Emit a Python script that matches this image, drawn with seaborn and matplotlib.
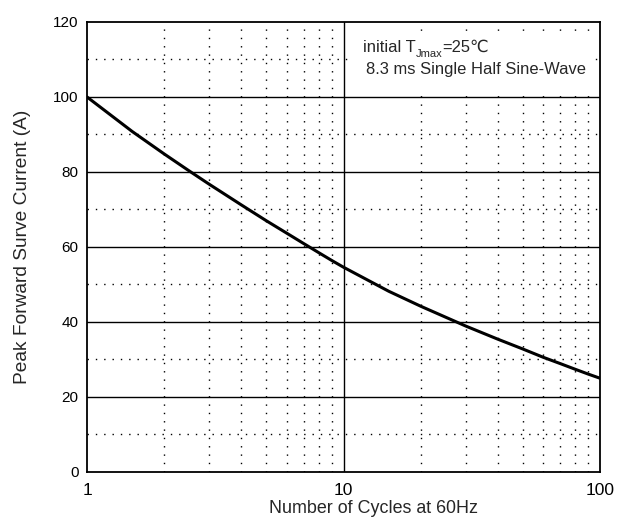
import numpy as np
import matplotlib
matplotlib.use('Agg')
import matplotlib.pyplot as plt
import matplotlib.patches as mpatches
import seaborn as sns
import pandas as pd
from matplotlib.ticker import FixedLocator, NullFormatter, FixedFormatter

# readings taken off the curve
cycles = [1, 1.5, 2, 2.5, 3, 4, 5, 6, 7, 8, 9, 10, 15, 20, 30, 40, 50, 60, 70, 80, 90, 100]
current = [100, 90.8, 84.8, 80.3, 76.7, 71.2, 67.0, 63.7, 60.9, 58.5, 56.4, 54.6,
           48.2, 44.2, 38.9, 35.4, 32.8, 30.6, 28.9, 27.4, 26.1, 25.0]

x_major = [1, 10, 100]
x_labels = ['1', '10', '100']
x_minor = [2, 3, 4, 5, 6, 7, 8, 9, 20, 30, 40, 50, 60, 70, 80, 90]
y_major = [0, 20, 40, 60, 80, 100, 120]
y_minor = [10, 30, 50, 70, 90, 110]

df = pd.DataFrame({'cycles': cycles, 'current': current})

sns.set_style('white')
plt.rcParams['font.family'] = ['Liberation Sans', 'DejaVu Sans']

fig = plt.figure(figsize=(6.32, 5.22), dpi=100)
ax = fig.add_axes([0.1377, 0.0958, 0.8117, 0.8621])

ax.set_xscale('log')
ax.set_xlim(1, 100)
ax.set_ylim(0, 120)

# grid
for v in x_major[1:-1]:
    ax.axvline(v, color='black', lw=1.0, zorder=1)
for v in y_major[1:-1]:
    ax.axhline(v, color='black', lw=1.0, zorder=1)
for v in x_minor:
    ax.axvline(v, color='black', lw=1.0, ls=(0, (1, 5)), zorder=1)
for v in y_minor:
    ax.axhline(v, color='black', lw=1.0, ls=(0, (1, 5)), zorder=1)

sns.lineplot(data=df, x='cycles', y='current', color='black', lw=2.2, ax=ax, zorder=3)

ax.xaxis.set_major_locator(FixedLocator(x_major))
ax.xaxis.set_major_formatter(FixedFormatter(x_labels))
ax.xaxis.set_minor_locator(FixedLocator(x_minor))
ax.xaxis.set_minor_formatter(NullFormatter())
ax.set_yticks(y_major)
ax.tick_params(axis='both', which='both', direction='in', length=0, colors='black')
ax.tick_params(axis='x', labelsize=12.5, pad=8)
ax.tick_params(axis='y', labelsize=11, pad=6)

for s in ax.spines.values():
    s.set_color('black')
    s.set_linewidth(1.3)

ax.set_xlabel('Number of Cycles at 60Hz', fontsize=12.9, va='center')
ax.xaxis.set_label_coords(0.5575, -0.082)
ax.set_ylabel('Peak Forward Surve Current (A)', fontsize=13.8, va='center')
ax.yaxis.set_label_coords(-0.1257, 0.5)

# white note box covering the grid
ax.add_patch(mpatches.Rectangle((0.517, 0.84), 0.471, 0.138, transform=ax.transAxes,
                                facecolor='white', edgecolor='none', zorder=2))

t1 = ax.text(0.538, 0.933, 'initial T', transform=ax.transAxes, fontsize=11.9,
             va='baseline', ha='left', zorder=4)
t2 = ax.annotate('Jmax', xy=(1, 0), xycoords=t1, xytext=(0, -2.5),
                 textcoords='offset points', fontsize=8, va='bottom', ha='left', zorder=4)
t3 = ax.annotate('=25\u2103', xy=(1, 0), xycoords=t2, xytext=(0, 2.5),
                 textcoords='offset points', fontsize=11.9, va='bottom', ha='left', zorder=4)
ax.text(0.544, 0.884, '8.3 ms Single Half Sine-Wave', transform=ax.transAxes,
        fontsize=11.9, va='baseline', ha='left', zorder=4)

fig.savefig('out.png', dpi=100)
